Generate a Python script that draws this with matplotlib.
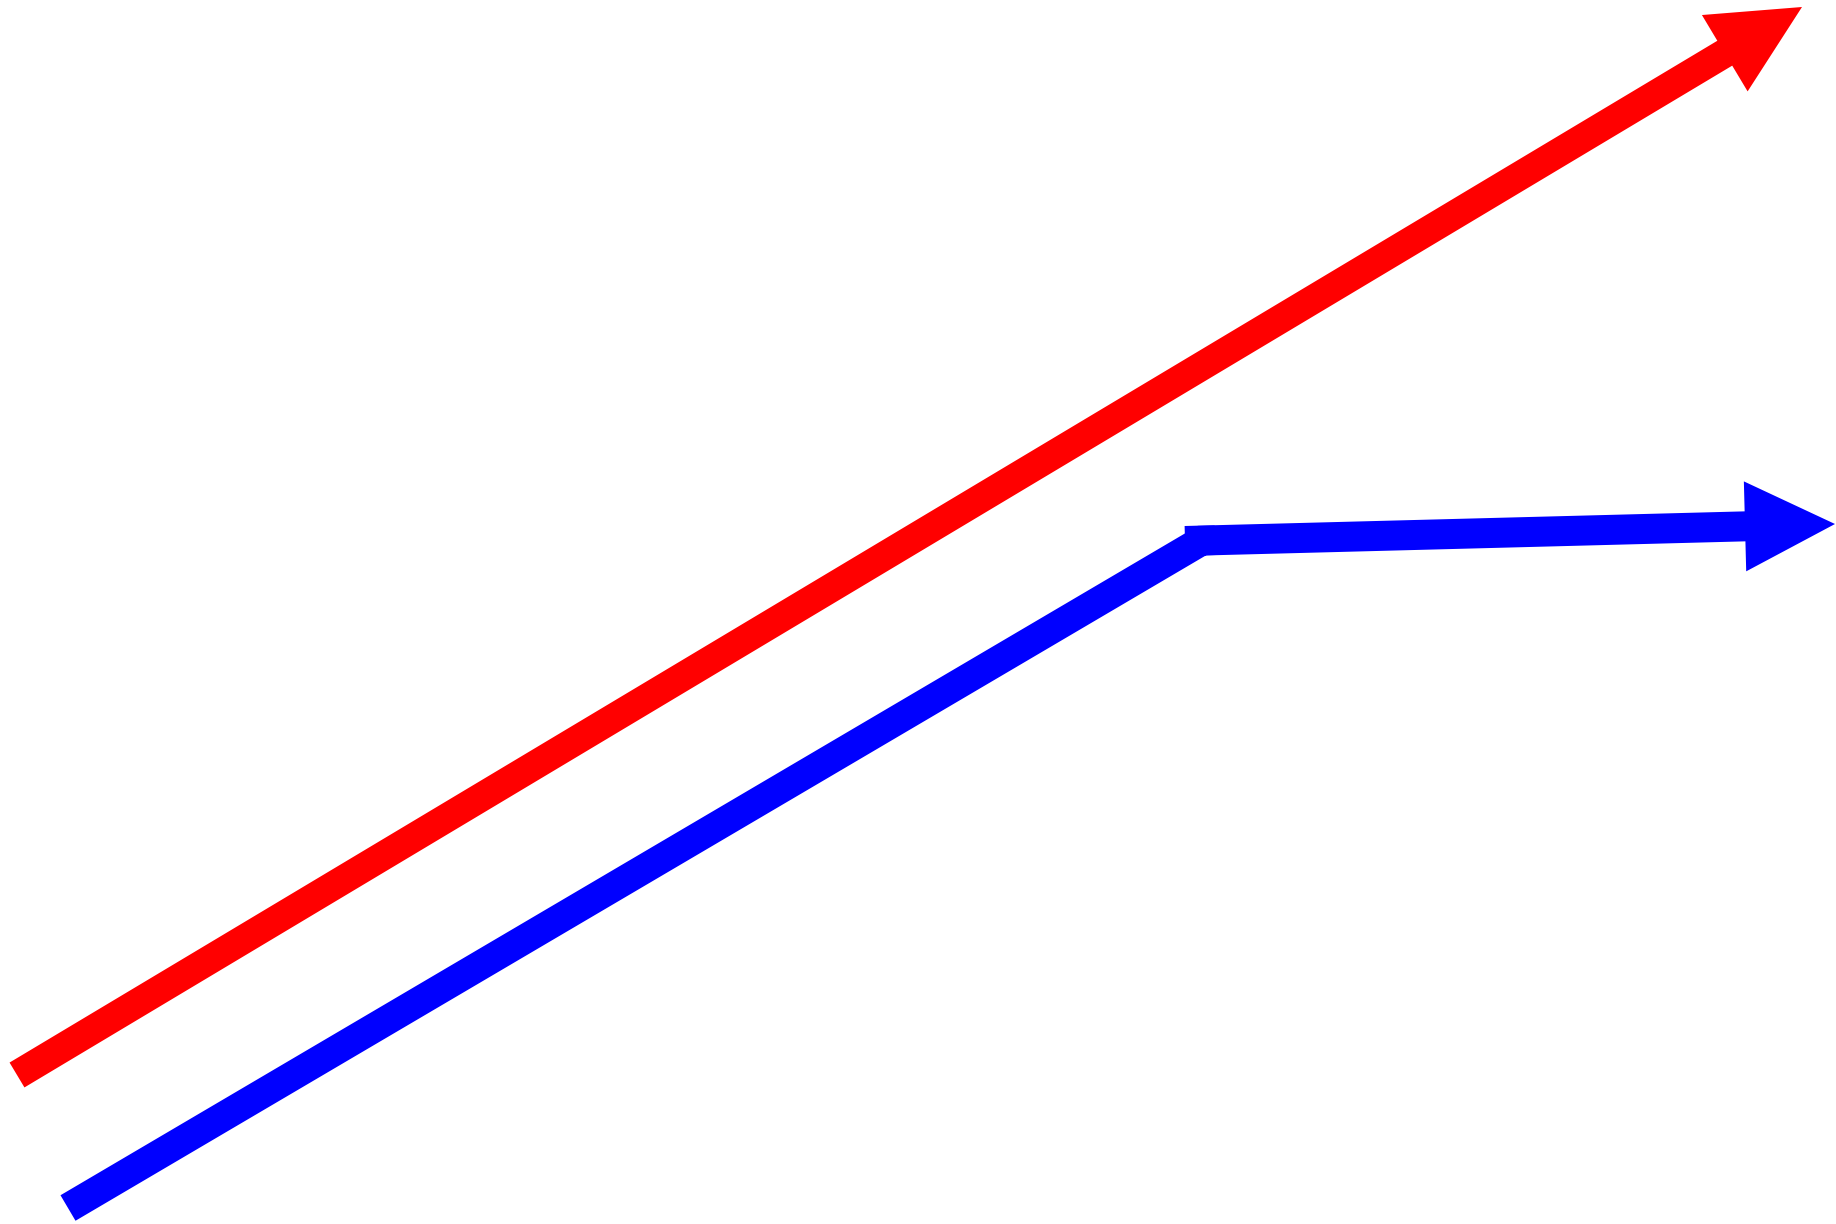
import matplotlib
matplotlib.use("Agg")
import matplotlib.pyplot as plt

# punten in pixels (x naar rechts, y naar beneden)
red_x = [17, 1802]
red_y = [1075, 7]

blue_line_x = [68, 1202, 1215]
blue_line_y = [1208, 540.56, 540.22]

blue_arrow_x = [1185, 1835]
blue_arrow_y = [541, 524]

W, H = 1836, 1224
DPI = 100

fig = plt.figure(figsize=(W / DPI, H / DPI), dpi=DPI)
ax = fig.add_axes([0, 0, 1, 1])
ax.set_xlim(0, W)
ax.set_ylim(H, 0)
ax.set_aspect("equal")
ax.axis("off")

# rode pijl
ax.arrow(red_x[0], red_y[0], red_x[1] - red_x[0], red_y[1] - red_y[0],
         width=29, head_width=89, head_length=90,
         length_includes_head=True, color="red", linewidth=0)

# blauwe lijn + pijl
ax.plot(blue_line_x, blue_line_y, color="blue", linewidth=29.6 * 72 / DPI,
        solid_capstyle="butt", solid_joinstyle="miter", snap=False)
ax.arrow(blue_arrow_x[0], blue_arrow_y[0],
         blue_arrow_x[1] - blue_arrow_x[0], blue_arrow_y[1] - blue_arrow_y[0],
         width=30, head_width=90, head_length=90,
         length_includes_head=True, color="blue", linewidth=0)

fig.savefig("out.png", dpi=DPI)
